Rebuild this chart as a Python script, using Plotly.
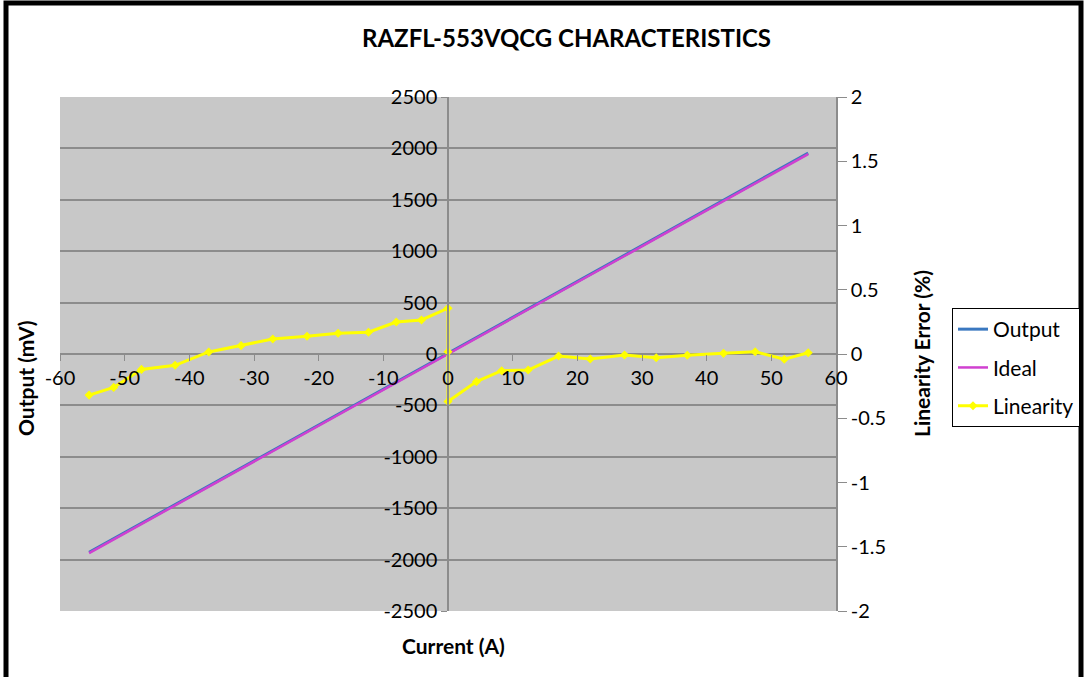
import plotly.graph_objects as go

# ---- data ----
current_a = [-55.5, -51.7, -47.4, -42.2, -37.0, -32.0, -27.1, -21.8, -17.0, -12.3, -8.0, -4.1,
             0.0, 0.0, 0.0, 4.4, 8.3, 12.4, 17.1, 22.0, 27.3, 32.2, 37.0, 42.6, 47.5, 52.0, 55.7]
output_mv = [-1929, -1797, -1648, -1467, -1285, -1111, -940, -755, -587, -423, -273, -137,
             0, 0, 0, 160, 296, 439, 603, 774, 959, 1130, 1297, 1493, 1664, 1822, 1954]
ideal_mv = [-1937, -1804, -1654, -1473, -1291, -1117, -946, -761, -593, -429, -279, -143,
            0, 0, 0, 154, 290, 433, 597, 768, 953, 1124, 1291, 1487, 1658, 1815, 1944]
linearity_pct = [-0.32, -0.26, -0.12, -0.088, 0.016, 0.065, 0.117, 0.138, 0.161, 0.169, 0.249, 0.265,
                 0.356, 0.018, -0.37, -0.215, -0.13, -0.125, -0.016, -0.039, -0.008, -0.029,
                 -0.01, 0.005, 0.018, -0.041, 0.01]

x_ticks = [-60, -50, -40, -30, -20, -10, 0, 10, 20, 30, 40, 50, 60]
x_tick_text = ["-60", "-50", "-40", "-30", "-20", "-10", "0", "10", "20", "30", "40", "50", "60"]
y_ticks = [-2500, -2000, -1500, -1000, -500, 0, 500, 1000, 1500, 2000, 2500]
y_tick_text = ["-2500", "-2000", "-1500", "-1000", "-500", "0", "500", "1000", "1500", "2000", "2500"]
y2_ticks = [-2, -1.5, -1, -0.5, 0, 0.5, 1, 1.5, 2]
y2_tick_text = ["-2", "-1.5", "-1", "-0.5", "0", "0.5", "1", "1.5", "2"]

FONT = "Lato, 'Open Sans', sans-serif"
GRID = "#8c8c8c"
TICK_SIZE = 20

fig = go.Figure()
fig.add_trace(go.Scatter(x=current_a, y=output_mv, name="Output", mode="lines",
                         legendgroup="a", line=dict(color="#3a78c0", width=3)))
fig.add_trace(go.Scatter(x=current_a, y=ideal_mv, name="Ideal", mode="lines",
                         legendgroup="b", line=dict(color="#d040d0", width=2.5)))
fig.add_trace(go.Scatter(x=current_a, y=linearity_pct, name="Linearity", mode="lines+markers",
                         legendgroup="c", yaxis="y2", line=dict(color="#ffff00", width=3),
                         marker=dict(symbol="diamond", size=7, color="#ffff00")))

L, R, T, B = 60, 248, 97, 66
W, H = 1084, 677
pw, ph = W - L - R, H - T - B

def px(xp):
    return (xp - L) / pw

def py(yp):
    return (H - B - yp) / ph

fig.update_layout(
    width=W, height=H,
    margin=dict(l=L, r=R, t=T, b=B, pad=0, autoexpand=False),
    paper_bgcolor="white",
    plot_bgcolor="#c8c8c8",
    font=dict(family=FONT, size=TICK_SIZE, color="#000000"),
    showlegend=True,
    legend=dict(x=px(952), y=py(308), xanchor="left", yanchor="top",
                bordercolor="#000000", borderwidth=1, bgcolor="white",
                font=dict(size=21, family=FONT), traceorder="grouped",
                tracegroupgap=8, itemwidth=30),
    xaxis=dict(range=[-60, 60], tickvals=x_ticks, ticktext=x_tick_text,
               anchor="free", position=0.5, showgrid=False, zeroline=False,
               showline=False, ticks="outside", ticklen=6, tickcolor=GRID,
               tickfont=dict(size=TICK_SIZE), fixedrange=True, automargin=False),
    yaxis=dict(range=[-2500, 2500], tickvals=y_ticks, ticktext=y_tick_text,
               anchor="free", position=0.5, showgrid=True, gridcolor=GRID, gridwidth=1.5,
               zeroline=True, zerolinecolor=GRID, zerolinewidth=1.5,
               showline=True, linecolor=GRID, linewidth=1.5,
               ticks="outside", ticklen=6, tickcolor=GRID,
               tickfont=dict(size=TICK_SIZE), fixedrange=True, automargin=False),
    yaxis2=dict(range=[-2, 2], tickvals=y2_ticks, ticktext=y2_tick_text,
                overlaying="y", side="right", anchor="x", showgrid=False, zeroline=False,
                showline=True, linecolor=GRID, linewidth=1.5,
                ticks="outside", ticklen=9, tickcolor=GRID,
                tickfont=dict(size=TICK_SIZE), fixedrange=True, automargin=False),
    annotations=[
        dict(text="<b>RAZFL-553VQCG CHARACTERISTICS</b>", x=px(566), y=py(38),
             xanchor="center", yanchor="middle",
             xref="paper", yref="paper", showarrow=False, font=dict(size=24, family=FONT)),
        dict(text="<b>Current (A)</b>", x=px(453), y=py(645),
             xanchor="center", yanchor="middle",
             xref="paper", yref="paper", showarrow=False, font=dict(size=21, family=FONT)),
        dict(text="<b>Output (mV)</b>", x=px(25), y=py(378), textangle=-90,
             xanchor="center", yanchor="middle",
             xref="paper", yref="paper", showarrow=False, font=dict(size=21, family=FONT)),
        dict(text="<b>Linearity Error (%)</b>", x=px(921), y=py(354), textangle=-90,
             xanchor="center", yanchor="middle",
             xref="paper", yref="paper", showarrow=False, font=dict(size=21, family=FONT)),
    ],
    shapes=[
        dict(type="rect", xref="paper", yref="paper",
             x0=px(6), x1=px(1081), y0=py(3), y1=py(720),
             line=dict(color="black", width=5), layer="above"),
    ],
)

fig.write_html("out.html", config={"displayModeBar": False},
               post_script="document.body.style.margin='0';document.body.style.overflow='hidden';")
